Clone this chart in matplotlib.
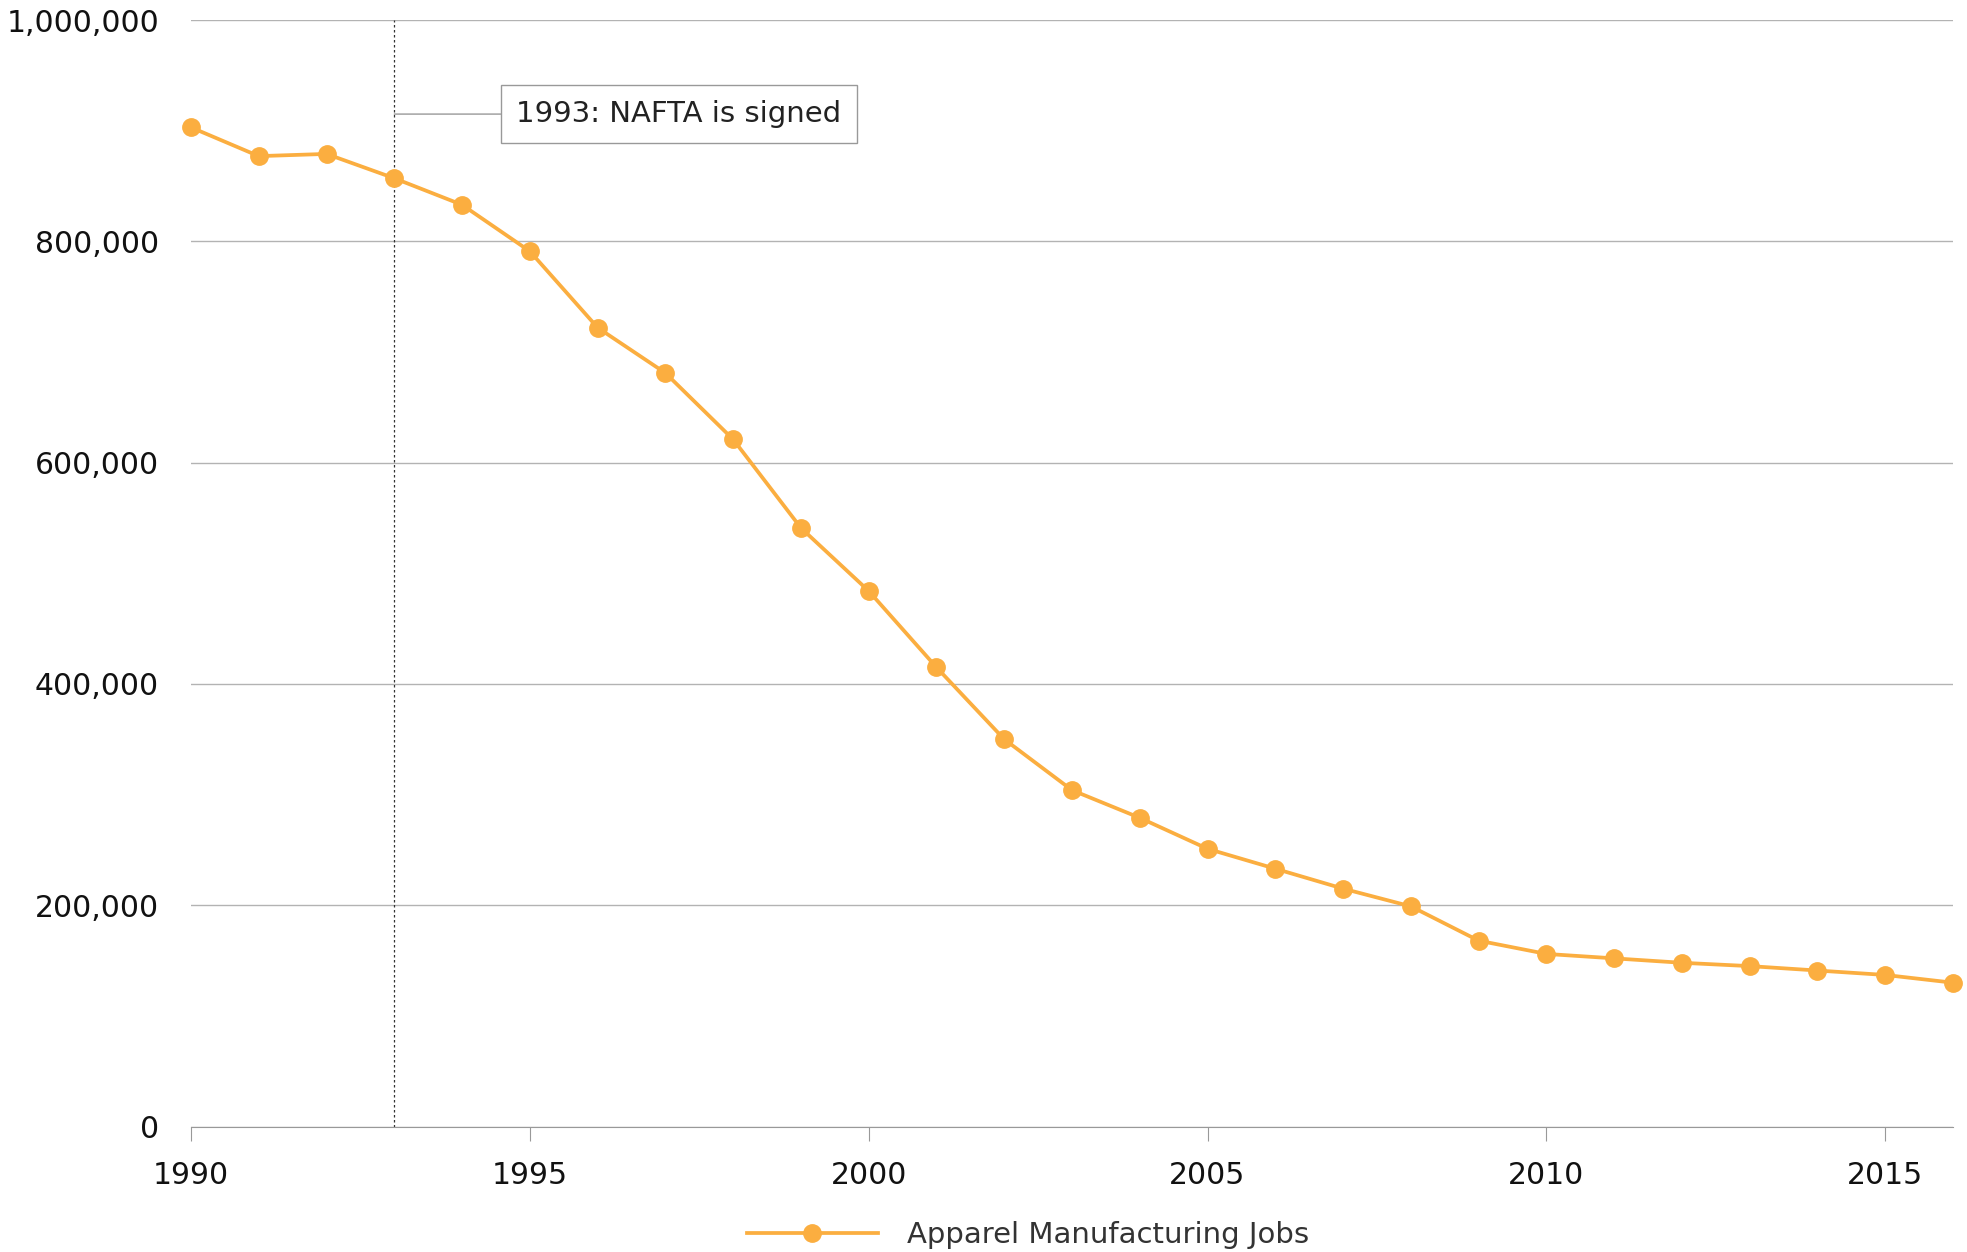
import matplotlib.pyplot as plt
from matplotlib.ticker import FuncFormatter

# Apparel manufacturing jobs, US
years = list(range(1990, 2017))
jobs = [903000, 877000, 879000, 857000, 833000, 791000, 722000, 681000, 621000,
        541000, 484000, 415000, 350000, 304000, 279000, 251000, 233000, 215000,
        199000, 168000, 156000, 152000, 148000, 145000, 141000, 137000, 130000]
y_ticks = [0, 200000, 400000, 600000, 800000, 1000000]
x_ticks = [1990, 1995, 2000, 2005, 2010, 2015]
nafta_year = 1993
note = "1993: NAFTA is signed"
series_name = "Apparel Manufacturing Jobs"

orange = "#FBAE40"
grey = "#b3b3b3"
plt.rcParams["font.family"] = ["DejaVu Sans"]

fig = plt.figure(figsize=(19.67, 12.52), dpi=100)
ax = fig.add_axes([0.0971, 0.1002, 0.8958, 0.8838])

ax.plot(years, jobs, color=orange, lw=2.7, marker="o", ms=12.5,
        clip_on=False, zorder=3, label=series_name)

ax.set_xlim(1990, 2016)
ax.set_ylim(0, 1000000)
ax.set_yticks(y_ticks)
ax.set_xticks(x_ticks)
ax.yaxis.set_major_formatter(FuncFormatter(lambda v, p: f"{int(v):,}"))
ax.grid(axis="y", color=grey, lw=1)
ax.set_axisbelow(True)
for s in ["top", "right", "left"]:
    ax.spines[s].set_visible(False)
ax.spines["bottom"].set_color("#999999")
ax.tick_params(axis="y", length=0, pad=23, labelsize=21.5, labelcolor="#111111")
ax.tick_params(axis="x", length=10, color="#999999", pad=15, labelsize=21.5,
               labelcolor="#111111")

# NAFTA marker
ax.axvline(nafta_year, color="#333333", lw=0.9, ls=(0, (2, 2)), zorder=2)
ax.annotate(note, xy=(nafta_year, 915000), xytext=(1997.2, 915000),
            ha="center", va="center", fontsize=21, color="#222222",
            bbox=dict(boxstyle="square,pad=0.52", fc="white", ec="#999999", lw=1),
            arrowprops=dict(arrowstyle="-", color="#999999", lw=1,
                            shrinkA=0, shrinkB=0))

ax.legend(loc="upper center", bbox_to_anchor=(0.475, -0.062), frameon=False,
          fontsize=21, handlelength=4.5, handletextpad=1.0, labelcolor="#333333")

fig.savefig("out.png", dpi=100)
